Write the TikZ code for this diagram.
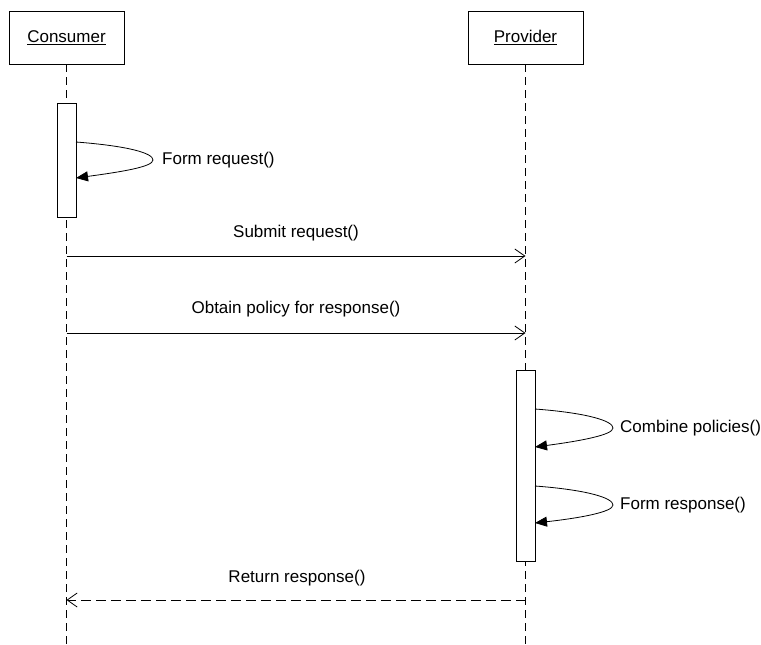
\documentclass[tikz,border=0pt]{standalone}
\usepackage{fontspec}
\setmainfont{Liberation Sans}
\usetikzlibrary{arrows.meta}

\begin{document}
\begin{tikzpicture}[x=1pt,y=-1pt,
  every node/.style={font=\fontsize{17}{20}\selectfont},
  actor/.style={draw, line width=0.8pt, minimum width=115pt, minimum height=53pt, inner sep=0pt},
  activation/.style={draw, fill=white, line width=0.8pt, minimum width=19pt, inner sep=0pt},
  life/.style={line width=0.8pt, dash pattern=on 8pt off 5pt},
  msg/.style={line width=0.8pt, -{Straight Barb[length=10pt,width=14pt,line width=0.8pt]}},
  reply/.style={line width=0.8pt, dash pattern=on 10pt off 5pt, -{Straight Barb[length=10pt,width=14pt,line width=0.8pt]}},
  selfcall/.style={line width=0.8pt, -{Triangle[length=12pt,width=10pt]}},
  label/.style={inner sep=0pt, anchor=center},
  selflabel/.style={inner sep=0pt, anchor=west}]

\useasboundingbox (0,0) rectangle (761,645);

% participants
\node[actor] (cons) at (66.5,37.5) {\underline{Consumer}};
\node[actor] (prov) at (525.5,37.5) {\underline{Provider}};

% lifelines
\coordinate (consEnd) at (66.5,645);
\coordinate (provEnd) at (525.5,645);
\draw[life] (cons.south) -- (consEnd);
\draw[life] (prov.south) -- (provEnd);

% activation bars
\node[activation, minimum height=114pt] (actC) at (66.5,160) {};
\node[activation, minimum height=191pt] (actP) at (525.5,466.2) {};

% Form request() self call
\coordinate (fq1) at (76,142);
\coordinate (fq2) at (76,178);
\draw[selfcall] (fq1) .. controls (128,146) and (153,153) .. (153,160)
                      .. controls (153,167) and (120,172) .. (fq2);
\node[selflabel] (lfq) at (162,160) {Form request()};

% Submit request()
\coordinate (s1) at (66.5,256);
\coordinate (s2) at (525.5,256);
\draw[msg] (s1) -- (s2);
\node[label] (ls) at (296,233) {Submit request()};

% Obtain policy for response()
\coordinate (o1) at (66.5,333);
\coordinate (o2) at (525.5,333);
\draw[msg] (o1) -- (o2);
\node[label] (lo) at (296,309) {Obtain policy for response()};

% Combine policies() self call
\coordinate (cp1) at (535,409);
\coordinate (cp2) at (535,447);
\draw[selfcall] (cp1) .. controls (588,413) and (613,421) .. (613,428)
                      .. controls (613,435) and (580,441) .. (cp2);
\node[selflabel] (lcp) at (620,428) {Combine policies()};

% Form response() self call
\coordinate (fr1) at (535,486);
\coordinate (fr2) at (535,523);
\draw[selfcall] (fr1) .. controls (588,490) and (613,498) .. (613,505)
                      .. controls (613,512) and (580,518) .. (fr2);
\node[selflabel] (lfr) at (620,505) {Form response()};

% Return response()
\coordinate (r1) at (525.5,600);
\coordinate (r2) at (66.5,600);
\draw[reply] (r1) -- (r2);
\node[label] (lr) at (297,578) {Return response()};

\end{tikzpicture}
\end{document}
